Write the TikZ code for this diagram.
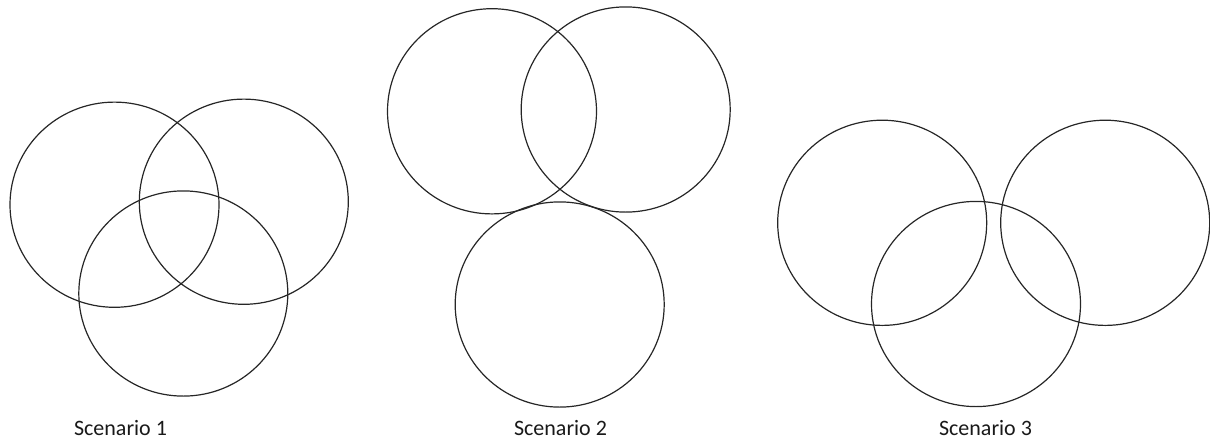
\documentclass[tikz,border=0pt]{standalone}
\usepackage{fontspec}
\setmainfont{Carlito}
\begin{document}
\begin{tikzpicture}[x=0.5pt,y=-0.5pt,
  ring/.style={draw=black!85,line width=0.6pt},
  caption/.style={font=\fontsize{11}{13}\selectfont,anchor=base,inner sep=0pt,text=black!90}]
\useasboundingbox (0,0) rectangle (1210,440);
% Scenario 1
\draw[ring] (114.5,204.7) ellipse [x radius=104.5,y radius=102.6];
\draw[ring] (243.8,201.7) ellipse [x radius=104.5,y radius=102.6];
\draw[ring] (183.3,293.5) ellipse [x radius=104.5,y radius=102.6];
% Scenario 2
\draw[ring] (492.0,111.3) ellipse [x radius=104.5,y radius=102.6];
\draw[ring] (625.7,109.5) ellipse [x radius=104.5,y radius=102.6];
\draw[ring] (559.7,304.5) ellipse [x radius=104.5,y radius=102.6];
% Scenario 3
\draw[ring] (882.2,222.8) ellipse [x radius=104.5,y radius=102.6];
\draw[ring] (1105.2,222.8) ellipse [x radius=104.5,y radius=102.6];
\draw[ring] (976.0,304.0) ellipse [x radius=104.5,y radius=102.6];
% Labels
\node[caption] (s1) at (120.5,435) {Scenario 1};
\node[caption] (s2) at (560.5,435) {Scenario 2};
\node[caption] (s3) at (985.5,435) {Scenario 3};
\end{tikzpicture}
\end{document}
